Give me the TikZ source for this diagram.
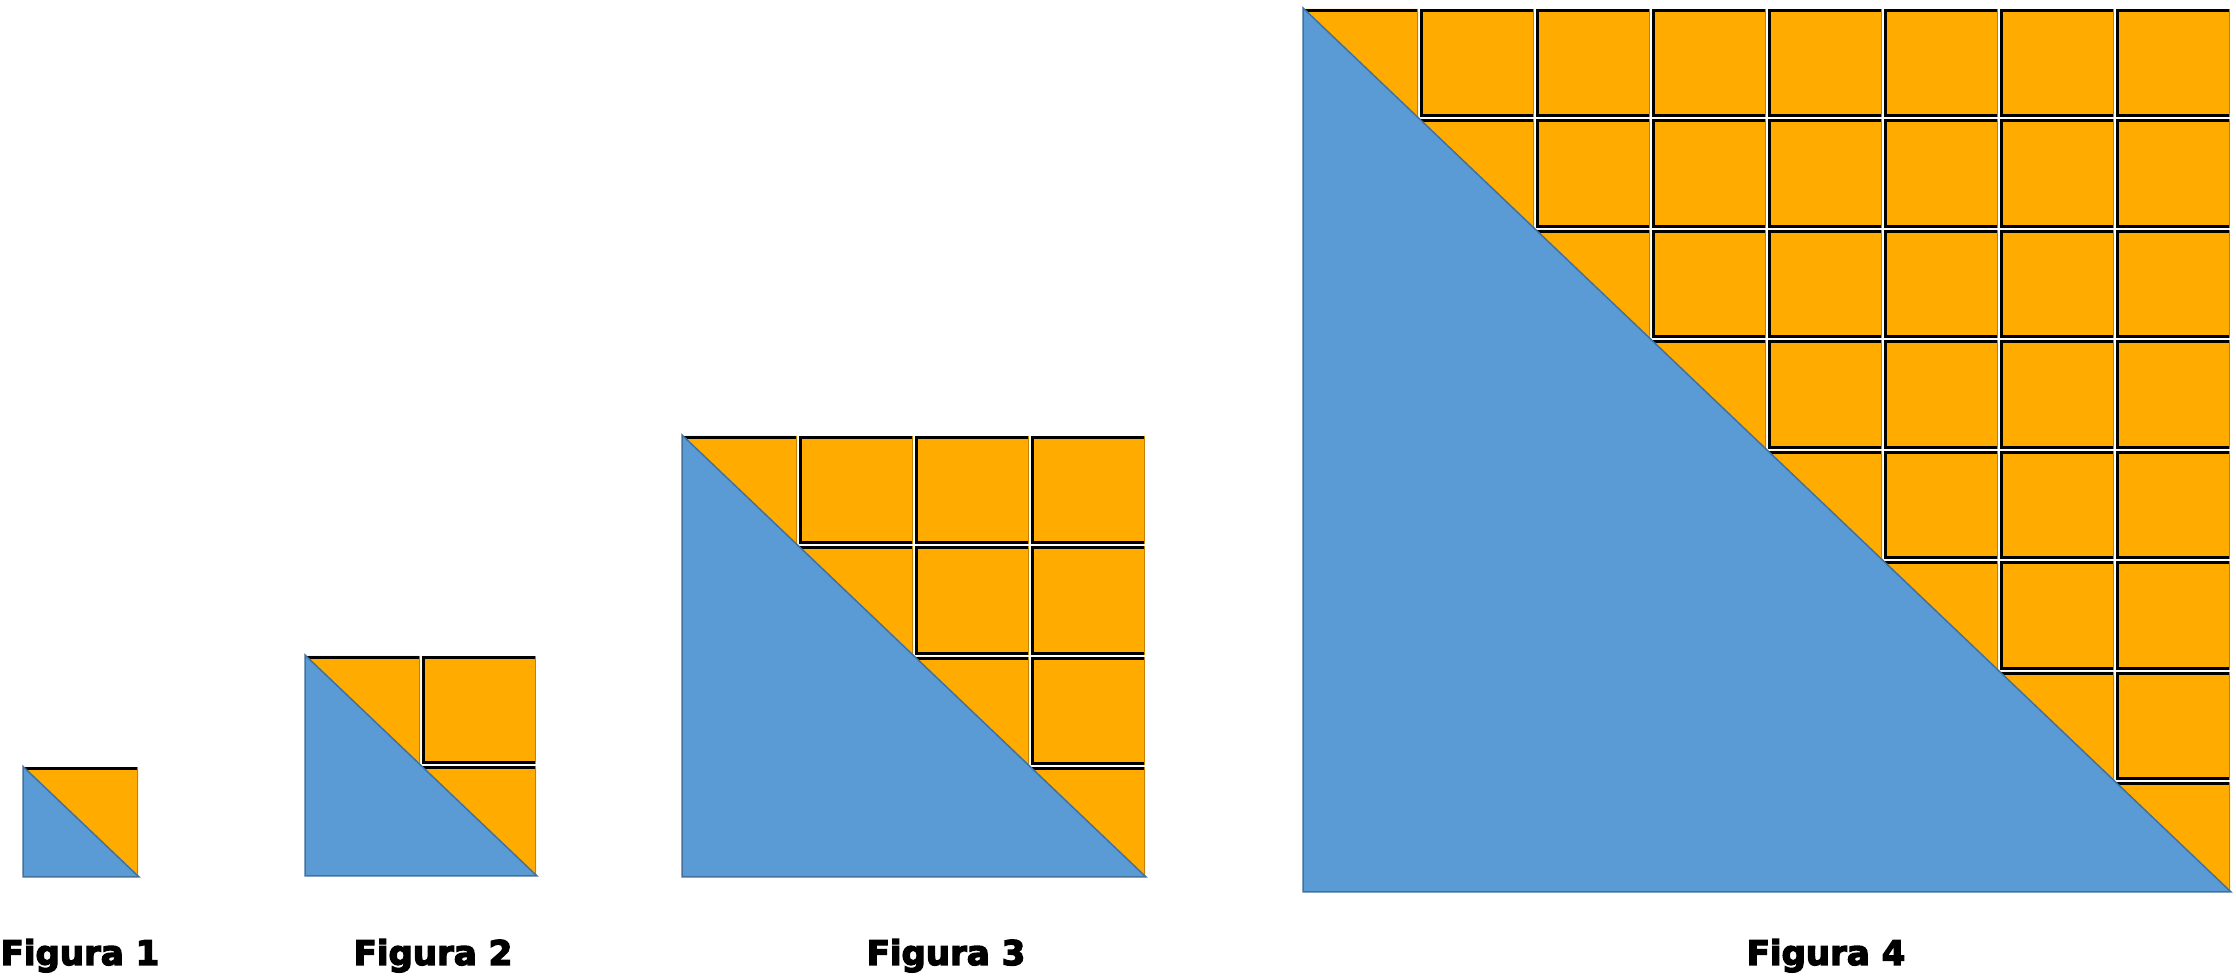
\documentclass[tikz,border=0pt]{standalone}
\usepackage{fontspec}
\setmainfont{DejaVu Sans}
\newfontfamily\rotfont{DejaVu Sans Bold}[FakeBold=4]
\usepackage{tikz}
\usetikzlibrary{calc}
\definecolor{azulC}{RGB}{91,155,213}
\definecolor{azulT}{RGB}{65,113,156}
\definecolor{laranjaC}{RGB}{255,171,0}
\definecolor{laranjaT}{RGB}{196,128,0}
\tikzset{
    azul/.style={fill=azulC,draw=azulT,line width=1.5pt},
    laranja/.style={fill=laranjaC},
    borda/.style={draw=black,line width=3pt},
    sombra/.style={draw=laranjaT,line width=1.2pt},
    rotulo/.style={font=\fontsize{34}{40}\rotfont,anchor=base,inner sep=0pt},
  }
\begin{document}
\begin{tikzpicture}[x=1pt,y=1pt]
				  %cellule : 116 x 110.5
				  %figure n : carre de n x n cellules
				  \useasboundingbox (0,0) rectangle (2236,976);
				  \foreach \x/\y/\n/\k/\lx in {23/99/1/1/80, 305/100/2/2/433, 682/99/4/3/946, 1303/84/8/4/1826}{
				    \pgfmathtruncatemacro\m{\n-1}
				    \begin{scope}[shift={(\x,\y)}]
				      \foreach \i in {0,...,\m}{
				        \foreach \j in {0,...,\m}{
				          \pgfmathtruncatemacro\s{\i+\j}
				          \pgfmathsetmacro\xa{\i*116}
				          \pgfmathsetmacro\xb{\xa+116}
				          \pgfmathsetmacro\ya{\j*110.5}
				          \pgfmathsetmacro\yb{\ya+110.5}
				          \ifnum\s>\m
				            \fill[laranja] (\xa+1,\ya+1) rectangle (\xb-1,\yb-1);
				            \draw[borda] (\xb-1,\yb-2.5) -- (\xa+2.5,\yb-2.5) -- (\xa+2.5,\ya+2.5) -- (\xb-1,\ya+2.5);
				            \draw[sombra] (\xb-1.6,\ya+1) -- (\xb-1.6,\yb-1);
				          \fi
				          \ifnum\s=\m
				            %triangle sur la diagonale
				            \fill[laranja] (\xa,\yb-1) -- (\xb-1,\yb-1) -- (\xb-1,\ya);
				            \draw[borda] (\xa,\yb-2.5) -- (\xb-1,\yb-2.5);
				            \draw[sombra] (\xb-1.6,\ya) -- (\xb-1.6,\yb-1);
				          \fi
				        }
				      }
				      \coordinate (A\k) at (0,\n*110.5);
				      \coordinate (B\k) at (0,0);
				      \coordinate (C\k) at (\n*116,0);
				      \draw[azul] (A\k) -- (B\k) -- (C\k) -- cycle;
				    \end{scope}
				    \node[rotulo] (fig\k) at (\lx,11) {Figura \k};
				  }
\end{tikzpicture}
\end{document}
